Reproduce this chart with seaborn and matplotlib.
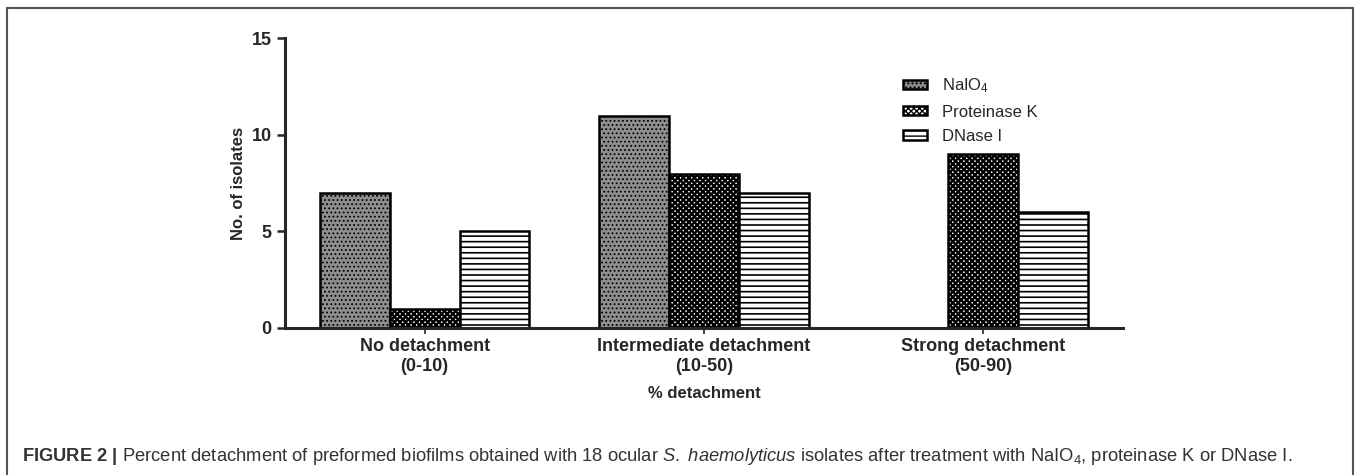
import matplotlib
matplotlib.use("Agg")
import matplotlib.pyplot as plt
import matplotlib.patches as mpatches
import seaborn as sns
import pandas as pd

# data
groups = ["No detachment\n(0-10)", "Intermediate detachment\n(10-50)", "Strong detachment\n(50-90)"]
treatments = ["NaIO$_4$", "Proteinase K", "DNase I"]
naio4 = [7, 11, 0]
proteinase_k = [1, 8, 9]
dnase_i = [5, 7, 6]

df = pd.DataFrame({
    "group": groups * 3,
    "treatment": [treatments[0]] * 3 + [treatments[1]] * 3 + [treatments[2]] * 3,
    "n": naio4 + proteinase_k + dnase_i,
})

sns.set_style("ticks")
plt.rcParams["font.family"] = ["Liberation Sans", "DejaVu Sans"]
plt.rcParams["mathtext.fontset"] = "custom"
plt.rcParams["mathtext.rm"] = "Liberation Sans"
plt.rcParams["mathtext.it"] = "Liberation Sans:italic"
plt.rcParams["mathtext.bf"] = "Liberation Sans:bold"
plt.rcParams["hatch.linewidth"] = 1.0

fig = plt.figure(figsize=(13.57, 4.75), dpi=100)
ax = fig.add_axes([0.210, 0.3095, 0.6175, 0.6095])

sns.barplot(data=df, x="group", y="n", hue="treatment", hue_order=treatments,
            order=groups, width=0.75, gap=0, ax=ax, legend=False,
            edgecolor="black", linewidth=1.8, err_kws={"linewidth": 0})

styles = [("#8e8e8e", "...."), ("white", "x" * 6), ("white", "---")]
hlw = [0.8, 1.7, 1.2]
for cont, (fc, h), lw in zip(ax.containers, styles, hlw):
    for p in cont.patches:
        p.set_facecolor(fc)
        p.set_hatch(h)
        p.set_edgecolor("black")
        if hasattr(p, "set_hatch_linewidth"):
            p.set_hatch_linewidth(lw)

leg = ax.legend(ax.containers, treatments, loc="upper left",
                bbox_to_anchor=(0.72, 0.92), frameon=False, fontsize=12,
                handlelength=1.4, handleheight=0.5, labelspacing=0.55,
                handletextpad=0.9)

ax.set_xlim(-0.5, 2.5)
ax.set_ylim(0, 15)
ax.set_yticks([0, 5, 10, 15])
sns.despine(ax=ax)
for s in ["left", "bottom"]:
    ax.spines[s].set_linewidth(2.2)
ax.tick_params(axis="both", width=1.8, length=6, labelsize=13)
ax.tick_params(axis="x", length=4, width=1.2)
for lab in ax.get_xticklabels() + ax.get_yticklabels():
    lab.set_fontweight("bold")
ax.set_ylabel("No. of isolates", fontsize=12, fontweight="bold", labelpad=4)
ax.set_xlabel("% detachment", fontsize=12, fontweight="bold", labelpad=8)

# outer frame of the figure panel
fig.patches.append(mpatches.Rectangle((0.0055, -0.05), 0.9915, 1.033,
                                      transform=fig.transFigure, fill=False,
                                      edgecolor="#555555", linewidth=1.5))

fig.text(0.0165, 0.03,
         r"$\bf{FIGURE}$ $\bf{2}$ $\bf{|}$ Percent detachment of preformed biofilms obtained with 18 ocular "
         r"$\it{S.}$ $\it{haemolyticus}$ isolates after treatment with NaIO$_4$, proteinase K or DNase I.",
         fontsize=13.2, color="#333333", va="baseline")

fig.savefig("out.png", dpi=100)
